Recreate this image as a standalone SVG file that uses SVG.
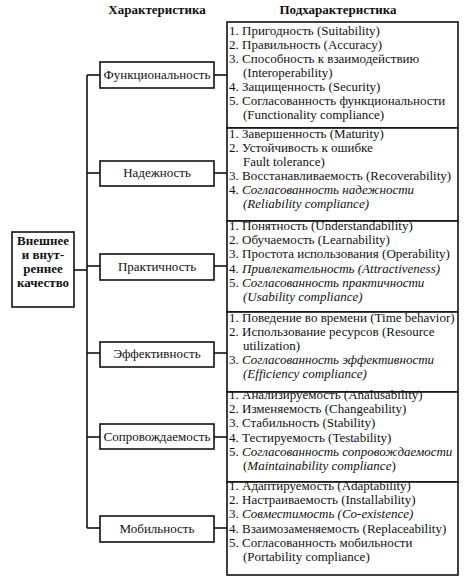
<svg xmlns="http://www.w3.org/2000/svg" width="474" height="579" viewBox="0 0 474 579">
<style>
text{font-family:"Liberation Serif","Times New Roman",serif;fill:#111}
.h{font-size:13px;font-weight:bold;text-anchor:middle}
.n{font-size:13px;text-anchor:middle}
.t{font-size:13px}
.r{font-size:13px;font-weight:bold;text-anchor:middle}
.i{font-style:italic}
rect{fill:#fff;stroke:#111;stroke-width:1.6}
.c line{stroke:#111;stroke-width:1.6}
</style>
<rect x="0" y="0" width="474" height="579" style="fill:#fff;stroke:none"/>
<text class="h" x="157" y="14">Характеристика</text>
<text class="h" x="338" y="14">Подхарактеристика</text>
<g class="c" id="connectors">
<line x1="74" y1="270" x2="87" y2="270"/>
<line x1="87" y1="75" x2="87" y2="528"/>
<line x1="87" y1="75" x2="100" y2="75"/>
<line x1="87" y1="173" x2="100" y2="173"/>
<line x1="87" y1="266" x2="100" y2="266"/>
<line x1="87" y1="353" x2="100" y2="353"/>
<line x1="87" y1="437" x2="100" y2="437"/>
<line x1="87" y1="528" x2="100" y2="528"/>
<line x1="214" y1="75" x2="227" y2="75"/>
<line x1="214" y1="173" x2="227" y2="173"/>
<line x1="214" y1="266" x2="227" y2="266"/>
<line x1="214" y1="353" x2="227" y2="353"/>
<line x1="214" y1="437" x2="227" y2="437"/>
<line x1="214" y1="528" x2="227" y2="528"/>
</g>
<g id="root">
<rect x="12" y="232" width="62" height="75"/>
<text class="r" x="43" y="245">Внешнее</text>
<text class="r" x="43" y="259">и внут-</text>
<text class="r" x="43" y="273">реннее</text>
<text class="r" x="43" y="287">качество</text>
</g>
<g id="func">
<rect x="100" y="62" width="114" height="26"/>
<text class="n" x="157" y="79">Функциональность</text>
</g>
<g id="rel">
<rect x="100" y="161" width="114" height="25"/>
<text class="n" x="157" y="177">Надежность</text>
</g>
<g id="usab">
<rect x="100" y="254" width="114" height="26"/>
<text class="n" x="157" y="271">Практичность</text>
</g>
<g id="eff">
<rect x="100" y="342" width="114" height="25"/>
<text class="n" x="157" y="358">Эффективность</text>
</g>
<g id="maint">
<rect x="100" y="424" width="114" height="25"/>
<text class="n" x="157" y="441">Сопровождаемость</text>
</g>
<g id="port">
<rect x="100" y="516" width="114" height="26"/>
<text class="n" x="157" y="533">Мобильность</text>
</g>
<g id="sub-func">
<rect x="227" y="22" width="231" height="106"/>
<text class="t" x="229" y="35">1. Пригодность (Suitability)</text>
<text class="t" x="229" y="49">2. Правильность (Accuracy)</text>
<text class="t" x="229" y="63">3. Способность к взаимодействию</text>
<text class="t" x="243" y="77">(Interoperability)</text>
<text class="t" x="229" y="91">4. Защищенность (Security)</text>
<text class="t" x="229" y="105">5. Согласованность функциональности</text>
<text class="t" x="243" y="119">(Functionality compliance)</text>
</g>
<g id="sub-rel">
<rect x="227" y="128" width="231" height="93"/>
<text class="t" x="229" y="138">1. Завершенность (Maturity)</text>
<text class="t" x="229" y="152">2. Устойчивость к ошибке</text>
<text class="t" x="243" y="166">Fault tolerance)</text>
<text class="t" x="229" y="180">3. Восстанавливаемость (Recoverability)</text>
<text class="t" x="229" y="194">4. <tspan class="i">Согласованность надежности</tspan></text>
<text class="t i" x="243" y="208">(Reliability compliance)</text>
</g>
<g id="sub-usab">
<rect x="227" y="221" width="231" height="91"/>
<text class="t" x="229" y="230">1. Понятность (Understandability)</text>
<text class="t" x="229" y="244">2. Обучаемость (Learnability)</text>
<text class="t" x="229" y="258">3. Простота использования (Operability)</text>
<text class="t" x="229" y="273">4. <tspan class="i">Привлекательность (Attractiveness)</tspan></text>
<text class="t" x="229" y="287">5. <tspan class="i">Согласованность практичности</tspan></text>
<text class="t i" x="243" y="301">(Usability compliance)</text>
</g>
<g id="sub-eff">
<rect x="227" y="312" width="231" height="80"/>
<text class="t" x="229" y="322">1. Поведение во времени (Time behavior)</text>
<text class="t" x="229" y="336">2. Использование ресурсов (Resource</text>
<text class="t" x="243" y="350">utilization)</text>
<text class="t" x="229" y="364">3. <tspan class="i">Согласованность эффективности</tspan></text>
<text class="t i" x="243" y="378">(Efficiency compliance)</text>
</g>
<g id="sub-maint">
<rect x="227" y="392" width="231" height="90"/>
<text class="t" x="229" y="399">1. Анализируемость (Analusability)</text>
<text class="t" x="229" y="413">2. Изменяемость (Changeability)</text>
<text class="t" x="229" y="427">3. Стабильность (Stability)</text>
<text class="t" x="229" y="442">4. Тестируемость (Testability)</text>
<text class="t" x="229" y="456">5. <tspan class="i">Согласованность сопровождаемости</tspan></text>
<text class="t" x="243" y="470">(<tspan class="i">Maintainability compliance</tspan>)</text>
</g>
<g id="sub-port">
<rect x="227" y="482" width="231" height="93"/>
<text class="t" x="229" y="490">1. Адаптируемость (Adaptability)</text>
<text class="t" x="229" y="504">2. Настраиваемость (Installability)</text>
<text class="t" x="229" y="518">3. <tspan class="i">Совместимость (Co-existence)</tspan></text>
<text class="t" x="229" y="533">4. Взаимозаменяемость (Replaceability)</text>
<text class="t" x="229" y="547">5. Согласованность мобильности</text>
<text class="t" x="243" y="561">(Portability compliance)</text>
</g>
</svg>
